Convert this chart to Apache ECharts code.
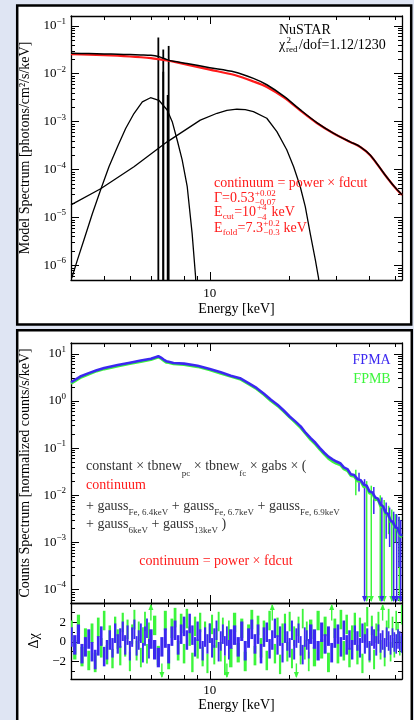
<!DOCTYPE html>
<html>
<head>
<meta charset="utf-8">
<title>NuSTAR spectrum</title>
<script src="https://cdn.jsdelivr.net/npm/echarts@6/dist/echarts.min.js"></script>
<style>
  html, body { margin: 0; padding: 0; background: #dfe5f3; }
  #chart { width: 414px; height: 720px; }
</style>
</head>
<body>
<div id="chart"></div>
<script>
// ---- data ----
// energy axis (keV)
const xMin = 3, xMax = 53;
const xMajor = [10];
const xMinor = [4, 5, 6, 7, 8, 9, 20, 30, 40, 50];

// top panel: model components (photons/cm2/s/keV)
const modelE = [3, 3.5, 4, 4.5, 5, 5.5, 6, 6.4, 6.9, 7.3, 8.2, 10, 12.4, 14.6, 16.4, 19, 21.9, 25.3, 29.2, 33.8, 36.9, 40.3, 45.3, 49.5, 53];
const totalModel = [0.0266, 0.0263, 0.0259, 0.0255, 0.0251, 0.0247, 0.0242, 0.0228, 0.0197, 0.0182, 0.0163, 0.0134, 0.0109, 0.0080, 0.0059, 0.0034, 0.00178, 9.6e-4, 5.8e-4, 3.8e-4, 3.0e-4, 2.0e-4, 8.4e-5, 4.5e-5, 3.0e-5];
const contModel = [0.0257, 0.0251, 0.0244, 0.0237, 0.0229, 0.0221, 0.0212, 0.0202, 0.0189, 0.0178, 0.0155, 0.0122, 0.0094, 0.0069, 0.0053, 0.0032, 0.00172, 9.4e-4, 5.75e-4, 3.78e-4, 2.97e-4, 1.98e-4, 8.3e-5, 4.45e-5, 2.95e-5];
const g6E = [3.02, 3.17, 3.36, 3.61, 3.88, 4.17, 4.49, 4.82, 5.18, 5.57, 5.98, 6.43, 6.91, 7.22, 7.54, 7.87, 8.22, 8.58, 8.84, 8.95];
const g6Flux = [5.5e-7, 1.3e-6, 3.5e-6, 1.2e-5, 3.8e-5, 1.15e-4, 3.0e-4, 7.2e-4, 1.48e-3, 2.6e-3, 3.16e-3, 2.8e-3, 1.75e-3, 1.0e-3, 4.1e-4, 1.6e-4, 4.5e-5, 4.7e-6, 5.9e-7, 1e-7];
const g13E = [3.0, 3.88, 5.18, 6.91, 9.21, 10.65, 11.6, 12.65, 13.6, 14.6, 16.4, 17.9, 19.5, 20.7, 21.9, 22.9, 23.9, 25.0, 25.7, 26.2];
const g13Flux = [1.84e-5, 4.0e-5, 1.15e-4, 3.8e-4, 1.08e-3, 1.5e-3, 1.72e-3, 1.82e-3, 1.78e-3, 1.62e-3, 1.18e-3, 6.2e-4, 2.6e-4, 1.15e-4, 4.5e-5, 1.7e-5, 4.7e-6, 1.3e-6, 5.5e-7, 1e-7];
// narrow Fe lines
const lineE = [6.4, 6.68, 6.68, 7.0, 6.94];
const linePeak = [0.057, 0.032, 0.011, 0.038, 0.0036];

// middle panel: counts spectrum (normalized counts/s/keV)
const specE = [3.0, 3.25, 3.5, 3.75, 4.0, 4.5, 5.0, 5.5, 6.0, 6.2, 6.4, 6.55, 6.7, 6.85, 7.0, 7.3, 8.0, 9.0, 10, 11, 12, 13, 14, 15, 16, 17, 18, 19, 20, 21, 22, 23, 24, 25, 26, 27, 28, 29, 30, 31, 32, 33, 34, 35, 36, 37, 38, 39, 40, 41, 42, 43, 44, 45, 46, 47, 48, 49, 50, 51, 52, 53];
const fpmaCts = [2.5, 3.3, 3.9, 4.5, 5.0, 5.8, 6.5, 7.2, 7.9, 8.4, 8.9, 8.3, 7.6, 7.0, 6.8, 6.4, 6.2, 5.6, 4.8, 4.07, 3.45, 3.05, 2.4, 1.89, 1.43, 1.06, 0.83, 0.63, 0.47, 0.37, 0.29, 0.21, 0.163, 0.13, 0.1, 0.08, 0.066, 0.058, 0.052, 0.048, 0.039, 0.036, 0.028, 0.027, 0.022, 0.021, 0.017, 0.016, 0.012, 0.0115, 0.009, 0.0085, 0.0064, 0.0058, 0.0043, 0.004, 0.0029, 0.0027, 0.0021, 0.002, 0.0015, 0.0014];
const fpmbCts = [2.35, 3.1, 3.7, 4.3, 4.75, 5.5, 6.2, 6.85, 7.5, 8.0, 8.5, 7.9, 7.2, 6.6, 6.45, 6.1, 5.9, 5.3, 4.55, 3.85, 3.3, 2.9, 2.28, 1.8, 1.36, 1.0, 0.79, 0.6, 0.45, 0.35, 0.27, 0.2, 0.15, 0.12, 0.093, 0.074, 0.06, 0.052, 0.047, 0.044, 0.036, 0.033, 0.026, 0.025, 0.02, 0.02, 0.015, 0.015, 0.011, 0.011, 0.008, 0.0082, 0.0058, 0.0056, 0.0040, 0.0039, 0.0027, 0.0026, 0.0020, 0.0019, 0.0014, 0.0013];
// wide error bars at high energy (lo = 0 means upper limit)
const fpmaBarE = [36.5, 38.3, 41.5, 44.5, 46.2, 47.6, 49.3, 50.6, 51.6, 52.4];
const fpmaBarHi = [0.03, 0.022, 0.015, 0.009, 0.007, 0.0055, 0.0045, 0.004, 0.0035, 0.003];
const fpmaBarLo = [0.012, 0, 0.004, 0, 0.0012, 0.0008, 0, 0, 0.0003, 0];
const fpmbBarE = [35.5, 39.0, 40.6, 43.9, 45.4, 47.2, 48.5, 50.0, 51.8];
const fpmbBarHi = [0.035, 0.02, 0.016, 0.01, 0.008, 0.006, 0.005, 0.004, 0.0035];
const fpmbBarLo = [0.01, 0, 0, 0, 0, 0.0015, 0, 0.001, 0];

// bottom panel: residuals (delta chi), |value| > 4 drawn as arrow
const resE = [3.0, 3.1, 3.2, 3.3, 3.4, 3.5, 3.6, 3.7, 3.8, 3.9, 4.0, 4.1, 4.2, 4.3, 4.4, 4.5, 4.6, 4.7, 4.8, 4.9, 5.0, 5.1, 5.2, 5.3, 5.4, 5.5, 5.6, 5.7, 5.8, 5.9, 6.0,
  6.2, 6.4, 6.6, 6.8, 7.0, 7.2, 7.4, 7.6, 7.8, 8.0, 8.2, 8.4, 8.6, 8.8, 9.0, 9.2, 9.4, 9.6, 9.8, 10.0, 10.2, 10.4, 10.6, 10.8, 11.0, 11.2, 11.4, 11.6, 11.8, 12.0,
  12.4, 12.8, 13.2, 13.6, 14.0, 14.4, 14.8, 15.2, 15.6, 16.0, 16.4, 16.8, 17.2, 17.6, 18.0, 18.4, 18.8, 19.2, 19.6, 20.0, 20.4, 20.8, 21.2, 21.6, 22.0, 22.4, 22.8, 23.2, 23.6, 24.0,
  24.8, 25.6, 26.4, 27.2, 28.0, 28.8, 29.6, 30.4, 31.2, 32.0, 32.8, 33.6, 34.4, 35.2, 36.0, 36.8, 37.6, 38.4, 39.2, 40.0, 40.8, 41.6, 42.4, 43.2, 44.0, 44.8, 45.6, 46.4, 47.2, 48.0, 48.8, 49.6, 50.4, 51.2, 52.0, 52.8];
const fpmaRes = [0.5, -0.3, 0.8, -1.2, -0.5, 0.3,
  -1.0, -1.8, -0.4, 0.6, -1.5, -0.8, 0.2, -0.6, 0.9, -0.2,
  0.4, 1.1, -0.3, 0.7, -0.9, 0.5, 1.3, -0.4, 0.2, 0.9, -1.1, 0.6, 1.4, -0.7, 0.3,
  -0.8, -1.6, -0.5, 0.4, -1.2, 0.6, 1.2, -0.3, 0.8, 1.6, 0.2, 1.9, 0.7, -0.5, 1.1, 0.3, -0.9, 0.5, -0.2, 0.9, -0.6, 0.4, 1.2, -1.0, 0.1, 0.8, -0.4, 0.6, -0.8, 0.3,
  0.7, -0.5, 1.1, -0.9, 0.4, 1.3, -0.2, 0.8, -1.2, 0.5, 1.0, -0.7, 0.2, 1.4, -0.3, 0.6, -1.1, 0.9, 0.1, -0.6, 1.2, -0.8, 0.4, 0.9, -0.4, -1.3, 0.5, 0.2, -0.7, 0.8,
  0.3, -0.9, 1.0, -0.2, 0.6, -1.1, 0.4, 0.8, -0.5, 1.2, -0.3, 0.2, -0.8, 0.7, 0.1, -0.6, 0.9, -0.2, 0.4, -0.9, 0.6, 0.3, -0.4, 0.8, -0.1, 0.2, -0.6, 0.5, 0.1, -0.3, 0.4, 0.0, -0.2, 0.3, 0.1, -0.1];
const fpmbRes = [1.2, -0.8, 1.8, -1.5, 0.4, -1.9,
  0.9, -2.1, 1.5, -0.6, 2.2, -1.3, 0.7, -1.7, 1.6, 0.3,
  -1.4, 2.0, -0.5, 1.3, -2.0, 0.8, 2.3, -0.9, 1.1, -1.6, 0.5, 2.1, -1.2, 1.0, 4.5,
  1.7, -1.4, -4.5, 2.2, -1.8, 1.4, 2.5, -0.9, 1.9, -1.2, 2.4, 0.6, -2.1, 1.6, -0.7, 2.0, -1.5, 1.1, -2.2, 0.9, 1.8, -1.3, 0.4, 2.1, -1.0, 1.5, -2.4, -4.5, 1.2, -1.6,
  2.0, -1.1, 1.4, -2.0, 0.8, 2.3, -1.4, 1.7, -0.6, 1.2, -1.9, 2.2, 4.5, -1.2, 1.5, -2.3, 0.9, 1.9, -1.0, 2.1, -1.7, 0.6, -4.5, 1.6, -1.3, 2.4, -0.8, 1.1, -2.0, 1.3,
  -1.5, 2.2, -0.7, 1.6, -2.1, 4.5, 1.4, -1.2, 2.3, -0.9, 1.8, -1.6, 0.7, 2.0, -1.3, 1.5, -2.2, 1.0, 2.6, -1.1, 1.7, -1.8, 0.9, 2.1, -0.8, 4.5, -1.5, 1.2, 2.4, -1.0, 1.6, -0.6, 2.2, 1.0, -0.4, 2.8];

// ---- styling ----
const FONT = '"Liberation Serif", "DejaVu Serif", serif';
const BLUE = '#3b28f0', GREEN = '#3cf53c', RED = '#ff1a1a';
const RES_MIN = -3.8, RES_MAX = 4;

function zip(xs, ys) { return xs.map(function (x, i) { return [x, ys[i]]; }); }

// minor ticks 2..9 inside each decade
function logMinors(lo, hi) {
  const out = [];
  for (let e = lo; e <= hi; e++) for (let m = 2; m <= 9; m++) out.push(m * Math.pow(10, e));
  return out;
}

function powLabel(v) {
  const e = Math.round(Math.log10(v));
  return '10{s|' + (e < 0 ? '\u2212' + (-e) : e) + '}';
}

// major + minor ticks on both sides, all ticks inside
function frameAxes(dim, grid, type, min, max, majors, minors, extra) {
  const sides = dim === 'x' ? ['bottom', 'top'] : ['left', 'right'];
  const list = [];
  sides.forEach(function (pos, k) {
    [majors, minors].forEach(function (vals, m) {
      const ax = {
        gridIndex: grid, type: type, min: min, max: max, position: pos,
        axisLine: { show: m === 0, onZero: false, lineStyle: { color: '#000', width: 1.3 } },
        axisTick: { show: true, inside: true, length: m === 0 ? 8 : 4, customValues: vals, lineStyle: { color: '#000', width: 1 } },
        axisLabel: { show: false },
        splitLine: { show: false },
        silent: true
      };
      if (k === 0 && m === 0 && extra) Object.assign(ax, extra);
      list.push(ax);
    });
  });
  return list;
}

const nameStyle = { fontFamily: FONT, fontSize: 14, color: '#000' };
const powRich = { s: { fontFamily: FONT, fontSize: 9, verticalAlign: 'top', lineHeight: 9, color: '#000' } };

function xLabelled(margin, gap) {
  return {
    axisLabel: { show: true, customValues: [10], margin: margin, fontFamily: FONT, fontSize: 13, color: '#000', formatter: function (v) { return String(v); } },
    name: 'Energy [keV]', nameLocation: 'middle', nameGap: gap, nameTextStyle: nameStyle
  };
}
function yLog(name, gap, majors) {
  return {
    axisLabel: { show: true, customValues: majors, margin: 5, fontFamily: FONT, fontSize: 13, color: '#000', lineHeight: 18, formatter: powLabel, rich: powRich },
    name: name, nameLocation: 'middle', nameRotate: 90, nameGap: gap, nameTextStyle: nameStyle
  };
}

const xAxes = [].concat(
  frameAxes('x', 0, 'log', xMin, xMax, xMajor, xMinor, xLabelled(7, 22)),
  frameAxes('x', 1, 'log', xMin, xMax, xMajor, xMinor, null),
  frameAxes('x', 2, 'log', xMin, xMax, xMajor, xMinor, xLabelled(5, 19))
);
const yAxes = [].concat(
  frameAxes('y', 0, 'log', 5e-7, 0.16, [1e-6, 1e-5, 1e-4, 1e-3, 1e-2, 1e-1], logMinors(-7, -2),
    yLog('Model Spectrum [photons/cm\u00b2/s/keV]', 31, [1e-6, 1e-5, 1e-4, 1e-3, 1e-2, 1e-1])),
  frameAxes('y', 1, 'log', 5.2e-5, 17, [1e-4, 1e-3, 1e-2, 1e-1, 1, 10], logMinors(-5, 0),
    yLog('Counts Spectrum [normalized counts/s/keV]', 31, [1e-4, 1e-3, 1e-2, 1e-1, 1, 10])),
  frameAxes('y', 2, 'value', RES_MIN, RES_MAX, [-2, 0, 2], [-3, -1, 1, 3], {
    axisLabel: { show: true, customValues: [-2, 0, 2], margin: 5, fontFamily: FONT, fontSize: 13, color: '#000',
      formatter: function (v) { return v < 0 ? '\u2212' + (-v) : String(v); } },
    name: '\u0394\u03c7', nameLocation: 'middle', nameRotate: 90, nameGap: 29, nameTextStyle: nameStyle
  })
);

// ---- custom renderers ----
function spikeItem(params, api) {
  const p = api.coord([api.value(0), api.value(1)]);
  const bottom = params.coordSys.y + params.coordSys.height;
  return { type: 'line', shape: { x1: p[0], y1: p[1], x2: p[0], y2: bottom }, style: { stroke: '#000', lineWidth: 1.8 } };
}

function downArrow(x, y, color) {
  return { type: 'polygon', shape: { points: [[x - 2.5, y - 6], [x + 2.5, y - 6], [x, y]] }, style: { fill: color } };
}
function upArrow(x, y, color) {
  return { type: 'polygon', shape: { points: [[x - 2.5, y + 6], [x + 2.5, y + 6], [x, y]] }, style: { fill: color } };
}

function errItem(color) {
  return function (params, api) {
    const cs = params.coordSys;
    const e = api.value(0), hi = api.value(1), lo = api.value(2);
    const p = api.coord([e, hi]);
    const x = p[0], bottom = cs.y + cs.height;
    if (lo > 0) {
      return { type: 'line', shape: { x1: x, y1: p[1], x2: x, y2: api.coord([e, lo])[1] }, style: { stroke: color, lineWidth: 1.5 } };
    }
    return { type: 'group', children: [
      { type: 'line', shape: { x1: x, y1: p[1], x2: x, y2: bottom - 2 }, style: { stroke: color, lineWidth: 1.5 } },
      downArrow(x, bottom - 1, color)
    ] };
  };
}

function residItem(color) {
  return function (params, api) {
    const cs = params.coordSys;
    const e = api.value(0), r = api.value(1), e2 = api.value(2);
    const x = api.coord([e, 0])[0], x2 = api.coord([e2, 0])[0];
    const w = Math.max(1.4, (x2 - x) * 0.9);
    const top = cs.y, bottom = cs.y + cs.height;
    if (r > RES_MAX) {
      return { type: 'group', children: [
        { type: 'line', shape: { x1: x, y1: api.coord([e, 2.2])[1], x2: x, y2: top + 2 }, style: { stroke: color, lineWidth: 1.4 } },
        upArrow(x, top + 1, color)
      ] };
    }
    if (r < RES_MIN) {
      return { type: 'group', children: [
        { type: 'line', shape: { x1: x, y1: api.coord([e, -2.2])[1], x2: x, y2: bottom - 2 }, style: { stroke: color, lineWidth: 1.4 } },
        downArrow(x, bottom - 1, color)
      ] };
    }
    const y1 = api.coord([e, r + 1])[1], y2 = api.coord([e, r - 1])[1];
    return { type: 'rect', shape: { x: x - w / 2, y: y1, width: w, height: y2 - y1 }, style: { fill: color } };
  };
}

function withNext(xs, ys) {
  return xs.map(function (x, i) { return [x, ys[i], i + 1 < xs.length ? xs[i + 1] : xMax]; });
}

function lineSeries(ax, data, color, width, smooth) {
  return {
    type: 'line', xAxisIndex: ax, yAxisIndex: ax, data: data, showSymbol: false, symbol: 'none',
    smooth: smooth || false, clip: true, lineStyle: { color: color, width: width }, silent: true
  };
}

const series = [
  lineSeries(0, zip(g6E, g6Flux), '#000', 1.3),
  lineSeries(0, zip(g13E, g13Flux), '#000', 1.3),
  { type: 'custom', xAxisIndex: 0, yAxisIndex: 0, clip: true, silent: true, data: zip(lineE, linePeak), renderItem: spikeItem },
  lineSeries(0, zip(modelE, contModel), RED, 2.2, 0.3),
  lineSeries(0, zip(modelE, totalModel), '#000', 1.5, 0.3),

  lineSeries(4, zip(specE, fpmbCts), GREEN, 2.6),
  { type: 'custom', xAxisIndex: 4, yAxisIndex: 4, clip: true, silent: true,
    data: fpmbBarE.map(function (e, i) { return [e, fpmbBarHi[i], fpmbBarLo[i]]; }), renderItem: errItem(GREEN) },
  lineSeries(4, zip(specE, fpmaCts), BLUE, 2.6),
  { type: 'custom', xAxisIndex: 4, yAxisIndex: 4, clip: true, silent: true,
    data: fpmaBarE.map(function (e, i) { return [e, fpmaBarHi[i], fpmaBarLo[i]]; }), renderItem: errItem(BLUE) },

  { type: 'custom', xAxisIndex: 8, yAxisIndex: 8, clip: true, silent: true, data: withNext(resE, fpmbRes), renderItem: residItem(GREEN) },
  { type: 'custom', xAxisIndex: 8, yAxisIndex: 8, clip: true, silent: true, data: withNext(resE, fpmaRes), renderItem: residItem(BLUE) }
];

// ---- annotations ----
function t(x, y, text, size, color, align) {
  return { type: 'text', x: x, y: y, z: 100, silent: true,
    style: { text: text, fontFamily: FONT, fontSize: size, fill: color || '#000', align: align || 'left', verticalAlign: 'middle' } };
}
const subRich = { sub: { fontFamily: FONT, fontSize: 9, verticalAlign: 'bottom', lineHeight: 11, fill: '#333' } };
function richLine(x, y, text) {
  return { type: 'text', x: x, y: y, z: 100, silent: true,
    style: { text: text, fontFamily: FONT, fontSize: 14, lineHeight: 22, fill: '#333', align: 'left', verticalAlign: 'middle', rich: subRich } };
}

const graphics = [
  { type: 'rect', z: -10, silent: true, shape: { x: 17.2, y: 5.5, width: 394, height: 319 }, style: { fill: '#fff', stroke: '#000', lineWidth: 2.5 } },
  { type: 'rect', z: -10, silent: true, shape: { x: 17.2, y: 330.2, width: 394.6, height: 420 }, style: { fill: '#fff', stroke: '#000', lineWidth: 2.5 } },

  t(279, 30.7, 'NuSTAR', 14),
  t(279, 45.7, '\u03c7', 14),
  t(286.5, 41, '2', 9),
  t(286, 50, 'red', 9),
  t(299, 45.7, '/dof=1.12/1230', 14),

  t(214, 183.3, 'continuum = power \u00d7 fdcut', 14, RED),
  t(214, 198.3, '\u0393=0.53', 14, RED),
  t(254.8, 193.3, '+0.02', 9, RED),
  t(254.8, 203, '\u22120.07', 9, RED),
  t(214, 212.3, 'E', 14, RED),
  t(222.7, 216.3, 'cut', 9, RED),
  t(234.2, 212.3, '=10', 14, RED),
  t(257, 208, '+4', 9, RED),
  t(257, 217.3, '\u22124', 9, RED),
  t(271.5, 212.3, 'keV', 14, RED),
  t(214, 228.3, 'E', 14, RED),
  t(222.7, 232.3, 'fold', 9, RED),
  t(237.5, 228.3, '=7.3', 14, RED),
  t(263.3, 223.5, '+0.2', 9, RED),
  t(263.3, 232.7, '\u22120.3', 9, RED),
  t(283.5, 228.3, 'keV', 14, RED),

  t(390.7, 360.7, 'FPMA', 14, BLUE, 'right'),
  t(390.7, 379.3, 'FPMB', 14, GREEN, 'right'),
  richLine(86, 466.7, 'constant \u00d7 tbnew{sub|pc} \u00d7 tbnew{sub|fc} \u00d7 gabs \u00d7 ('),
  t(86, 485.7, 'continuum', 14, RED),
  richLine(86, 506, '+ gauss{sub|Fe, 6.4keV} + gauss{sub|Fe, 6.7keV} + gauss{sub|Fe, 6.9keV}'),
  richLine(86, 524.5, '+ gauss{sub|6keV} + gauss{sub|13keV} )'),
  t(139.3, 561.7, 'continuum = power \u00d7 fdcut', 14, RED)
];

const chart = echarts.init(document.getElementById('chart'));
chart.setOption({
  backgroundColor: '#dfe5f3',
  animation: false,
  grid: [
    { left: 71, top: 16, width: 331, height: 264 },
    { left: 71, top: 343, width: 331, height: 260 },
    { left: 71, top: 603, width: 331, height: 76 }
  ],
  xAxis: xAxes,
  yAxis: yAxes,
  series: series,
  graphic: graphics
});
</script>
</body>
</html>
